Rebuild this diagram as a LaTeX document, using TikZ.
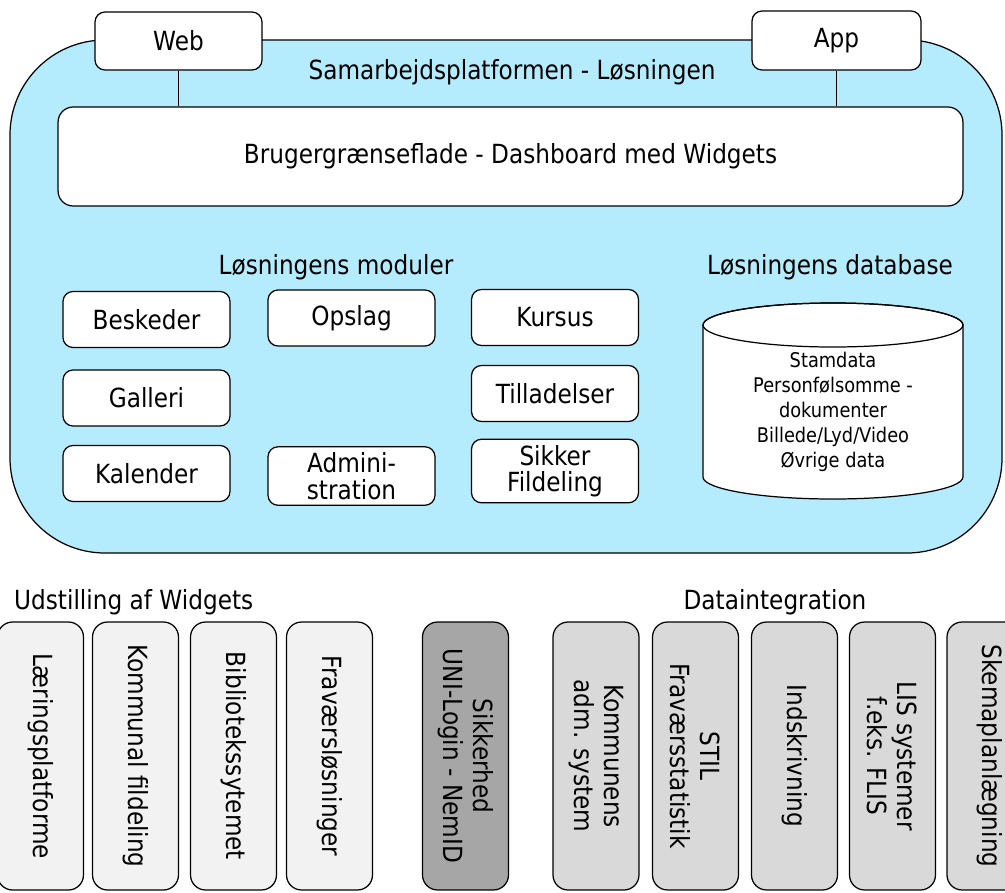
\documentclass[tikz,border=0pt]{standalone}
\usepackage{fontspec}
\setmainfont{DejaVu Sans}[FakeStretch=0.88]
\usetikzlibrary{positioning}
\definecolor{bleuclair}{RGB}{180,235,253}

\begin{document}
\begin{tikzpicture}[x=0.02cm,y=-0.02cm]
\tikzstyle{every node}=[font=\fontsize{15}{17}\selectfont]
\tikzstyle{boite}=[draw,fill=white,line width=0.7pt,rounded corners=0.2cm,align=center]
\tikzstyle{module}=[boite,minimum width=3.34cm,minimum height=1.12cm]
\tikzstyle{widget}=[boite,fill=gray!10,rotate=-90,minimum width=5.36cm,minimum height=1.72cm,rounded corners=0.3cm]
\tikzstyle{integ}=[widget,fill=gray!30]
\useasboundingbox (0,0) rectangle (1005,893);

%=== Plateforme
\draw[fill=bleuclair,line width=0.7pt,rounded corners=1.9cm] (10,40) rectangle (1002,553);
\node (titre) at (512,72) {Samarbejdsplatformen - Løsningen};
\node[boite,minimum width=3.34cm,minimum height=1.16cm] (web) at (178.5,41) {Web};
\node[boite,minimum width=3.38cm,minimum height=1.18cm] (app) at (836.5,40.5) {App};
\node[boite,minimum width=18.1cm,minimum height=1.98cm,rounded corners=0.3cm] (dash) at (510.5,156.5)
    {Brugergrænseflade - Dashboard med Widgets};
\draw[line width=0.7pt] (web.south) -- (web.south |- dash.north);
\draw[line width=0.7pt] (app.south) -- (app.south |- dash.north);

% Moduler
\node (moduler) at (336,267) {Løsningens moduler};
\node[module] (beskeder) at (146.5,319.5) {Beskeder};
\node[module] (opslag) at (351.5,318) {Opslag};
\node[module] (kursus) at (555,317.5) {Kursus};
\node[module] (galleri) at (146.5,398) {Galleri};
\node[module] (tilladelser) at (555,393.5) {Tilladelser};
\node[module] (kalender) at (146.5,473.5) {Kalender};
\node[module,font=\fontsize{15}{15}\selectfont] (admin) at (351.5,476) {Admini-\\stration};
\node[module,font=\fontsize{15}{15}\selectfont] (fildeling) at (555,471) {Sikker\\Fildeling};

% Database
\node (database) at (830,267) {Løsningens database};
\filldraw[fill=white,line width=0.7pt] (703,325) -- (703,477)
    arc[start angle=180,end angle=360,x radius=2.6cm,y radius=0.44cm] -- (963,325)
    arc[start angle=0,end angle=180,x radius=2.6cm,y radius=0.44cm] -- cycle;
\draw[line width=0.7pt] (833,325) ellipse[x radius=2.6cm,y radius=0.44cm];
\node[align=center,font=\fontsize{11.5}{14.2}\selectfont] (donnees) at (833,412)
    {Stamdata\\Personfølsomme -\\dokumenter\\Billede/Lyd/Video\\Øvrige data};

%=== Udstilling af Widgets
\node[anchor=west] (udstilling) at (8,602) {Udstilling af Widgets};
\foreach \x/\nom/\txt in {40.5/laering/Læringsplatforme,135.5/kommunal/Kommunal fildeling,
    233.5/bibliotek/Bibliotekssytemet,329.5/fravaer/Fraværsløsninger}
    \node[widget] (\nom) at (\x,756) {\txt};
\node[widget,fill=gray!70] (sikkerhed) at (465.5,756) {Sikkerhed\\UNI-Login - NemID};

%=== Dataintegration
\node (dataintegration) at (775,602) {Dataintegration};
\foreach \x/\nom/\txt in {596/kommunens/{Kommunens\\adm. system},695.5/stil/{STIL\\Fraværsstatistik},
    794.5/indskrivning/Indskrivning,892.5/lis/{LIS systemer\\f.eks. FLIS},990/skema/Skemaplanlægning}
    \node[integ] (\nom) at (\x,756) {\txt};
\end{tikzpicture}
\end{document}
